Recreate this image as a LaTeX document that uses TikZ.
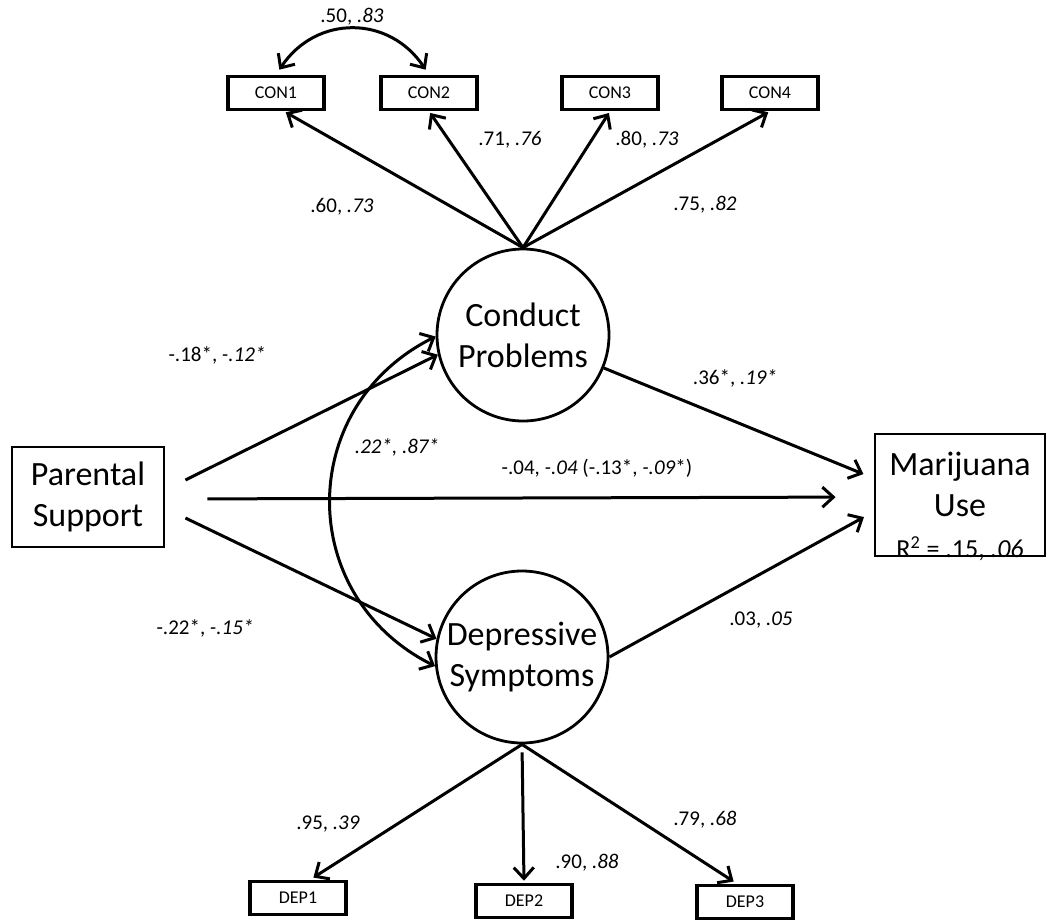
\documentclass[tikz,border=0pt]{standalone}
\usepackage{fontspec}
\setmainfont{Carlito}
\usetikzlibrary{arrows.meta}

\begin{document}
\begin{tikzpicture}[x=0.5pt,y=-0.5pt,
  every node/.style={font=\fontsize{10.5}{12.6}\selectfont},
  lat/.style={circle,draw,line width=1.4pt,minimum size=86pt,inner sep=0pt,align=center,font=\fontsize{17}{20.5}\selectfont},
  obs/.style={rectangle,draw,line width=1.4pt,align=center,font=\fontsize{17}{20.5}\selectfont},
  ind/.style={rectangle,draw,line width=1.8pt,minimum width=48pt,minimum height=16.5pt,font=\fontsize{9}{11}\selectfont},
  arr/.style={line width=1.5pt,-{Straight Barb[length=5.5pt,width=10pt]}},
  cov/.style={line width=1.5pt,{Straight Barb[length=5.5pt,width=10pt]}-{Straight Barb[length=5.5pt,width=10pt]}}]
  \useasboundingbox (0,0) rectangle (1048,921);

  % latent factors and observed variables
  \node[lat] (cp) at (523,335) {Conduct\\Problems};
  \node[lat] (ds) at (522,657) {Depressive\\Symptoms};
  \node[obs,minimum width=76pt,minimum height=50pt] (ps) at (88,497) {Parental\\Support};
  \node[obs,minimum width=85pt,minimum height=61pt] (mj) at (960,495) {};
  \node[align=center,font=\fontsize{17}{20.5}\selectfont] (mjtxt) at (960,506)
    {Marijuana\\Use\\{\fontsize{13}{13}\selectfont R\textsuperscript{2} = .15, \textit{.06}}};

  % indicators
  \foreach \i/\x in {1/276,2/429,3/610,4/770}
    \node[ind] (con\i) at (\x,93) {CON\i};
  \foreach \i/\x/\y in {1/298/898,2/524/901,3/745/902}
    \node[ind] (dep\i) at (\x,\y) {DEP\i};

  % loadings
  \draw[arr,shorten >=1pt] (cp.north) -- ([xshift=4pt]con1.south);
  \foreach \i in {2,3,4}
    \draw[arr,shorten >=1pt] (cp.north) -- (con\i.south);
  \draw[arr,shorten >=2pt] (ds.south) -- ([xshift=6pt]dep1.north);
  \draw[arr,shorten <=4pt,shorten >=1pt] (ds.south) -- (dep2.north);
  \draw[arr,shorten >=2pt] (ds.south) -- ([xshift=-4pt]dep3.north);

  % covariances
  \draw[cov,shorten <=3pt,shorten >=3pt] (con1.north) .. controls +(40,-60) and +(-40,-60) .. (con2.north);
  \draw[cov] (cp.181) .. controls +(-140,70) and +(-140,-70) .. (ds.186);

  % structural paths
  \draw[arr] ([xshift=10pt,yshift=8.5pt]ps.east) -- (cp.193);
  \draw[arr] ([xshift=10pt,yshift=-10.5pt]ps.east) -- (ds.168);
  \draw[arr,shorten <=21pt,shorten >=19pt] ([yshift=-1pt]ps.east) -- ([yshift=-1pt]mj.west);
  \draw[arr,shorten >=5.5pt] (cp) -- (mj.169);
  \draw[arr,shorten >=5.5pt] (ds.east) -- (mj.191);

  % estimates
  \node (e1) at (352,17) {.50, \textit{.83}};
  \node (e2) at (342,207) {.60, \textit{.73}};
  \node (e3) at (510,140) {.71, \textit{.76}};
  \node (e4) at (647,140) {.80, \textit{.73}};
  \node (e5) at (705,205) {.75, \textit{.82}};
  \node (e6) at (217,355) {-.18*, \textit{-.12*}};
  \node (e7) at (397,447) {\textit{.22*, .87*}};
  \node (e8) at (597,468) {-.04, \textit{-.04} (-.13*, \textit{-.09}*)};
  \node (e9) at (735,378) {.36*, \textit{.19*}};
  \node (e10) at (761,620) {.03, \textit{.05}};
  \node (e11) at (205,628) {-.22*, \textit{-.15*}};
  \node (e12) at (328,824) {.95, \textit{.39}};
  \node (e13) at (587,863) {.90, \textit{.88}};
  \node (e14) at (705,820) {.79, \textit{.68}};
\end{tikzpicture}
\end{document}
